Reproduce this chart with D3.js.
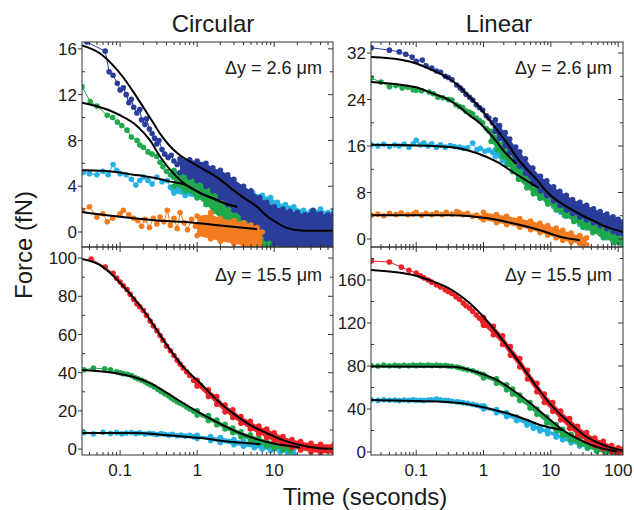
<!DOCTYPE html>
<html>
<head>
<meta charset="utf-8">
<script src="https://cdn.jsdelivr.net/npm/d3@7"></script>
<style>
body { margin: 0; background: #fff; }
text { font-family: "Liberation Sans", Arial, sans-serif; fill: #1a1a1a; }
</style>
</head>
<body>
<svg id="chart" width="634" height="510"></svg>
<script>
// ---- tick values ----
const circXTicks = [0.1, 1, 10];
const linXTicks = [0.1, 1, 10, 100];
const circTopYTicks = [0, 4, 8, 12, 16];
const circTopYMinor = [2, 6, 10, 14];
const circBotYTicks = [0, 20, 40, 60, 80, 100];
const circBotYMinor = [10, 30, 50, 70, 90];
const linTopYTicks = [0, 8, 16, 24, 32];
const linTopYMinor = [4, 12, 20, 28];
const linBotYTicks = [0, 40, 80, 120, 160];
const linBotYMinor = [20, 60, 100, 140, 180];

const titles = ['Circular', 'Linear'];
const notes = ['\u0394y = 2.6 \u03bcm', '\u0394y = 15.5 \u03bcm'];

// ---- Circular, dy = 2.6 um : [time, force] ; bands are [time, low, high] ----
const cTopBlue = [[0.033,16.9],[0.037,16.6],[0.064,15.8],[0.072,14.0],[0.081,13.7],[0.092,13.0],[0.1,12.4],[0.11,12.6],[0.12,12.0],[0.13,11.3],[0.14,11.6],[0.15,10.9],[0.165,10.4],[0.18,10.7],[0.19,9.8],[0.21,9.4],[0.22,9.9],[0.24,9.0],[0.26,8.6],[0.28,8.2],[0.3,7.7],[0.32,8.0],[0.35,7.2],[0.38,6.8],[0.42,6.5],[0.46,6.7],[0.5,6.2],[0.55,5.9],[0.6,6.1],[0.66,5.7],[0.72,5.9],[0.8,5.5],[0.9,5.7]];
const cTopBlueBand = [[0.6,5.2,6.4],[0.8,4.8,6.3],[1,4.5,6.2],[1.3,4.0,6.0],[1.6,3.6,5.6],[2,3.0,5.4],[2.5,2.4,5.0],[3,1.9,4.6],[4,1.2,4.0],[5,0.6,3.6],[6.5,-0.2,3.0],[8,-0.6,2.6],[10,-1.0,2.2],[13,-1.4,2.0],[16,-1.4,1.8],[20,-1.4,1.7],[25,-1.4,1.5],[32,-1.4,1.9],[40,-1.4,1.6],[50,-1.4,1.5],[60,-1.4,1.7]];
const cTopBlueFit = [[0.032,16.3],[0.055,15.6],[0.08,14.6],[0.11,13.5],[0.15,12.2],[0.2,10.9],[0.26,9.7],[0.33,8.6],[0.43,7.6],[0.55,6.9],[0.7,6.4],[0.89,6.0],[1.2,5.5],[1.8,4.8],[2.9,3.7],[4,3.0],[6,2.2],[8,1.4],[11,0.8],[14,0.4],[18,0.2],[25,0.12],[40,0.1],[60,0.1]];

const cTopGreen = [[0.032,12.7],[0.041,11.4],[0.05,11.0],[0.068,10.2],[0.08,10.0],[0.092,9.6],[0.105,9.3],[0.123,8.9],[0.14,8.3],[0.166,8.0],[0.18,7.6],[0.2,7.4],[0.23,7.0],[0.26,6.8],[0.3,6.6],[0.33,6.1],[0.36,5.7],[0.4,5.3],[0.45,5.0],[0.49,4.8],[0.55,4.9]];
const cTopGreenBand = [[0.5,4.0,5.4],[0.7,3.6,5.2],[1,3.0,4.8],[1.3,2.4,4.4],[1.6,1.8,3.9],[2,1.2,3.4],[2.5,0.6,3.0],[3,0.2,2.6],[4,-0.3,2.0],[5,-0.6,1.5],[6.5,-1.0,1.0],[8,-1.4,0.6],[10,-1.4,0.4],[13,-1.4,0.2],[17,-1.4,0.0]];
const cTopGreenFit = [[0.032,11.3],[0.068,10.7],[0.1,10.2],[0.15,9.5],[0.2,8.7],[0.245,8.0],[0.33,6.6],[0.45,5.4],[0.66,4.3],[1.1,3.4],[1.8,2.8],[2.5,2.4],[3.3,2.2]];

const cTopCyan = [[0.033,5.2],[0.04,5.1],[0.05,5.0],[0.06,5.3],[0.07,5.0],[0.081,5.9],[0.09,5.4],[0.1,5.1],[0.12,5.0],[0.14,4.6],[0.16,4.1],[0.18,4.5],[0.2,4.8],[0.23,4.5],[0.26,4.2],[0.3,4.8],[0.35,4.4],[0.41,4.5],[0.45,3.9],[0.49,3.7],[0.55,4.8]];
const cTopCyanBand = [[0.5,3.4,5.0],[0.7,3.2,5.0],[1,3.0,4.8],[1.5,2.8,4.5],[2,2.6,4.1],[3,2.3,3.8],[4,2.1,3.5],[5.3,1.9,3.4],[7,1.6,3.2],[9,1.4,3.0],[11,1.2,2.6],[14,1.0,2.4],[18,0.8,2.2],[24,0.6,1.9],[30,0.5,1.8],[40,0.4,2.0],[50,0.3,1.7],[60,0.3,1.9]];
const cTopCyanFit = [[0.032,5.4],[0.06,5.35],[0.1,5.2],[0.15,5.0],[0.2,4.9],[0.3,4.7],[0.45,4.4],[0.66,4.2],[1.1,3.4],[1.8,2.8],[2.5,2.4],[3.3,2.2]];

const cTopOrange = [[0.032,1.9],[0.04,2.2],[0.05,1.3],[0.06,1.6],[0.068,0.9],[0.08,1.2],[0.1,1.6],[0.11,1.9],[0.13,1.5],[0.15,1.2],[0.17,1.0],[0.19,0.5],[0.21,1.1],[0.24,0.4],[0.27,1.2],[0.3,0.7],[0.33,1.3],[0.37,0.9],[0.41,1.9],[0.45,0.6],[0.5,1.2],[0.55,0.3],[0.6,1.7],[0.68,0.8],[0.75,0.2],[0.85,1.1],[0.95,0.5],[1.1,-0.1],[1.3,0.9],[1.5,1.7],[1.7,0.4]];
const cTopOrangeBand = [[1,-0.3,1.4],[1.5,-0.6,1.5],[2,-0.8,1.2],[3,-1.0,1.0],[4,-1.2,0.8],[5,-1.4,0.6],[6,-1.4,0.4],[7,-1.4,0.0]];
const cTopOrangeFit = [[0.032,1.75],[0.06,1.5],[0.15,1.2],[0.3,1.0],[0.66,0.9],[1.5,0.65],[2.9,0.45],[6,0.25]];

// ---- Circular, dy = 15.5 um ----
const cBotRed = [[0.042,99.5],[0.064,95.3],[0.081,92.0],[0.09,89.5],[0.1,87.5],[0.11,85.5],[0.123,83.5],[0.135,81],[0.15,78.5],[0.165,76],[0.18,74.5],[0.2,72.5],[0.22,70],[0.245,67],[0.27,64.5],[0.3,62],[0.33,59.5],[0.36,57],[0.4,54],[0.45,51.5],[0.5,49],[0.55,46.5],[0.6,44.5],[0.66,42.5],[0.73,40.5],[0.8,38.5],[0.9,36],[1.0,34.5],[1.1,33.5]];
const cBotRedBand = [[1,33,36],[1.4,27.5,31],[1.8,23.5,27.5],[2.3,19.5,23],[2.9,16.5,20.5],[3.7,13.5,17],[4.9,10.5,14.5],[6.3,8,12],[8,6,10.5],[10,4,8.5],[13,2.5,6.5],[17,0.8,5],[22,-0.5,4],[30,-1.5,3],[40,-2,2.5],[60,-2.5,2.5]];
const cBotRedFit = [[0.032,99.5],[0.055,96.3],[0.08,91],[0.123,83],[0.2,72.8],[0.3,62.3],[0.45,51.8],[0.66,43],[1.1,34.5],[1.8,25.7],[2.9,18.8],[4.9,12.6],[8,8.4],[13,4.7],[21.7,2.1],[36,0.6],[60,0.1]];

const cBotGreen = [[0.034,41.5],[0.045,42.4],[0.063,42.0],[0.075,41.5],[0.09,40.5],[0.1,40.0],[0.11,39.5],[0.125,39.2],[0.14,38.5],[0.155,37.5],[0.17,36.8],[0.19,36],[0.21,35.2],[0.23,34.3],[0.25,33.5],[0.28,32.5],[0.31,31.2],[0.34,30.2],[0.38,29],[0.42,28],[0.46,26.8],[0.5,25.8],[0.55,24.8],[0.6,24],[0.66,23.2],[0.73,22],[0.8,21],[0.9,19.8],[1.0,19]];
const cBotGreenBand = [[1,17.8,20],[1.4,15,17.5],[1.8,12.8,15.2],[2.3,10.5,13],[2.9,8.5,11],[3.7,6.5,9],[4.9,4.5,7.5],[6.3,3,6],[8,1.5,4.5],[10,0.5,3.5],[13,-0.5,2.5],[16,-1,2]];
const cBotGreenFit = [[0.032,41.4],[0.068,40.3],[0.1,39.3],[0.15,37.7],[0.245,34.5],[0.41,29.3],[0.66,24],[1.1,18.8],[1.8,14.1],[2.9,10],[4.9,6.3],[8,3.7],[13,2.1],[21.7,0.8]];

const cBotCyan = [[0.034,8.5],[0.045,8.0],[0.06,8.8],[0.075,8.2],[0.09,8.6],[0.105,8.0],[0.12,8.4],[0.14,8.7],[0.16,8.1],[0.18,8.5],[0.21,7.9],[0.24,8.3],[0.27,8.0],[0.3,7.6],[0.34,8.1],[0.38,7.8],[0.43,7.3],[0.48,7.8],[0.55,7.0],[0.62,7.4],[0.7,6.8],[0.8,7.2],[0.9,6.5],[1,6.8]];
const cBotCyanBand = [[1,5.5,7.2],[1.5,4.5,6.5],[2,3.5,6],[3,2.3,5],[4,1.5,4.2],[5.5,0.7,3.5],[7,0,2.8],[9,-0.8,2],[12,-1.5,1.2],[15,-2,0.5],[18,-2.5,0]];
const cBotCyanFit = [[0.032,8.4],[0.15,8.4],[0.41,7.3],[1.1,5.8],[2.9,3.7],[6.6,2.6]];

// ---- Linear, dy = 2.6 um ----
const lTopBlue = [[0.0215,32.9],[0.04,32.5],[0.056,32.2],[0.07,31.8],[0.087,31.3],[0.1,30.6],[0.123,30.8],[0.14,29.8],[0.17,29.4],[0.2,28.9],[0.23,28.7],[0.27,28.0],[0.3,27.8],[0.34,27.4],[0.4,26.5],[0.45,26.0],[0.49,25.6],[0.55,24.9],[0.62,24.4],[0.69,23.9],[0.78,23.1],[0.87,22.6],[0.97,22.2],[1.1,21.2],[1.2,20.8],[1.36,20.0],[1.5,19.2],[1.73,18.2]];
const lTopBlueBand = [[1.5,18.5,20.5],[1.73,17.3,19.5],[2.1,16,18.3],[2.45,14.8,17.2],[3,13.4,15.8],[3.45,12.5,15],[4.2,11.3,13.8],[5.4,9.6,12.2],[7,8.3,10.8],[8.7,7.5,10],[11,6.6,9],[13.6,5.8,8.2],[17,5,7.5],[21,4.4,6.8],[27,3.8,6.3],[34,3.3,5.8],[43,2.8,5.2],[54,2.3,4.7],[68,1.8,4.3],[84,1.3,3.8],[100,1.0,3.4],[120,0.8,3.0]];
const lTopBlueFit = [[0.0213,31.3],[0.062,30.8],[0.1,30.2],[0.17,29.1],[0.3,27.7],[0.44,26.2],[0.6,24.6],[0.87,22.7],[1.2,20.6],[1.73,18.2],[2.3,16.3],[3.1,14.1],[4.4,12],[6.2,10.2],[8,8.6],[10.7,7.2],[15,6],[21,5],[30,4],[42,3.2],[60,2.3],[85,1.7],[120,1.2]];

const lTopGreen = [[0.0215,27.7],[0.03,27.0],[0.04,26.2],[0.05,26.4],[0.062,26.0],[0.075,26.1],[0.09,25.7],[0.1,25.6],[0.12,25.5],[0.156,25.3],[0.18,25.0],[0.21,24.4],[0.25,24.3],[0.3,24.0],[0.34,23.9],[0.39,23.1],[0.44,22.8],[0.49,22.6],[0.55,22.0],[0.62,21.8],[0.69,21.5],[0.78,20.8],[0.87,20.4],[0.97,20.0],[1.1,19.0],[1.2,18.6],[1.36,17.6]];
const lTopGreenBand = [[1.3,16.8,18.5],[1.6,15.3,17.5],[1.92,14.2,16.3],[2.3,12.8,15.0],[2.7,11.6,13.8],[3.3,10.3,12.5],[4.4,8.8,11],[5.5,7.8,9.8],[6.9,7,9],[9,6,8],[12,5,7],[16,4,6],[22,3,5],[30,2,4],[42,1.1,3],[60,0.2,2],[85,-0.6,1.2],[120,-1.4,0.6]];
const lTopGreenFit = [[0.0213,27.0],[0.062,26.5],[0.1,26.1],[0.17,25.1],[0.3,24.0],[0.44,22.7],[0.6,21.4],[0.87,20.0],[1.36,17.6],[2.2,14.6],[3.1,12.9]];

const lTopCyan = [[0.0215,16.2],[0.027,16.0],[0.033,16.3],[0.04,15.9],[0.048,16.2],[0.056,16.0],[0.066,16.3],[0.078,15.8],[0.09,16.4],[0.1,17.0],[0.115,16.2],[0.13,16.5],[0.15,16.0],[0.17,16.4],[0.2,15.8],[0.23,16.2],[0.27,15.8],[0.32,16.1],[0.37,15.9],[0.44,15.8],[0.5,15.6],[0.58,15.7],[0.69,16.5],[0.8,15.4],[0.9,15.6],[1.05,15.1],[1.2,15.3],[1.36,14.9],[1.56,14.8]];
const lTopCyanBand = [[1.5,14.2,15.4],[1.9,13.5,15],[2.2,12.9,14.4],[2.7,12,13.5],[3.3,11,12.8],[4.4,9.8,11.6],[5.5,8.8,10.5],[6.9,7.6,9.4],[8.7,6.6,8.2],[11,5.6,7.2],[14,4.6,6.2],[17,3.9,5.5],[22,3.2,4.8],[27,2.5,4.2],[34,1.9,3.6],[42,1.4,3.1],[55,0.8,2.4],[68,0.2,1.9],[84,-0.3,1.3],[100,-0.6,0.9],[120,-0.8,0.6]];
const lTopCyanFit = [[0.0213,16.2],[0.1,16.1],[0.34,15.8],[0.79,14.8],[1.56,13.3],[3.1,11.1],[5.4,9.4],[6.5,8.8]];

const lTopOrange = [[0.0215,4.1],[0.027,4.3],[0.033,4.0],[0.04,4.4],[0.05,4.2],[0.06,4.5],[0.075,4.2],[0.09,4.3],[0.1,4.6],[0.12,4.1],[0.14,4.4],[0.17,4.2],[0.2,4.5],[0.24,4.2],[0.28,4.6],[0.34,4.3],[0.4,4.7],[0.44,4.5],[0.5,4.2],[0.58,4.4],[0.69,3.9],[0.79,4.1],[0.9,3.7],[1.05,4.0]];
const lTopOrangeBand = [[1,3.3,4.6],[1.56,2.8,4.2],[2.2,2.5,3.9],[3.45,2.0,3.5],[5,1.6,3.1],[6.9,1.1,2.7],[9,0.7,2.3],[12,0.2,1.9],[15,-0.2,1.5],[20,-0.5,1.0],[27,-0.8,0.6],[34,-1.0,0.2]];
const lTopOrangeFit = [[0.0213,4.1],[0.34,4.1],[1.1,3.6],[2.7,2.7],[6.9,1.5],[13.6,0.4],[27,-0.2]];

// ---- Linear, dy = 15.5 um ----
const lBotRed = [[0.0215,177.7],[0.04,176.7],[0.06,172],[0.078,169],[0.1,166.5],[0.115,164],[0.13,162],[0.15,160],[0.17,158],[0.2,155.5],[0.23,153.5],[0.27,151],[0.3,149],[0.34,147.5],[0.39,144.5],[0.44,142],[0.5,138.5],[0.55,136],[0.62,134],[0.69,131],[0.78,127.5],[0.87,124.5],[0.97,121.5],[1.1,118]];
const lBotRedBand = [[1,118,125],[1.4,109,117],[1.92,100,108],[2.5,90,98],[3.45,79,87],[4.5,68,76],[6.2,56,64],[8,46,54],[10.7,38,46],[14,30,38],[19,22,31],[25,15.5,24],[34,10,18],[45,6,13],[60,3,10],[80,0,6],[100,-1.5,4],[120,-2.5,3]];
const lBotRedFit = [[0.0213,169.3],[0.062,166.5],[0.1,164],[0.156,160],[0.34,150.7],[0.62,138.6],[1.1,122.8],[1.92,104],[3.45,82.8],[6.2,60.5],[10.7,41.9],[19,27],[34,14],[60,6.5],[107,1.9],[120,1.4]];

const lBotGreen = [[0.0215,80.5],[0.027,80],[0.033,80.8],[0.04,80.2],[0.048,80.6],[0.056,80.1],[0.066,80.7],[0.078,80.2],[0.09,80.9],[0.1,80.3],[0.115,80.8],[0.13,80.4],[0.15,80.9],[0.17,80.5],[0.2,80.8],[0.23,80.3],[0.27,80.5],[0.3,80.0],[0.34,79.8],[0.4,79.0],[0.44,78.3],[0.5,77.5],[0.58,76.5],[0.69,75.5],[0.79,74.0],[0.9,72.5],[1.05,70.5]];
const lBotGreenBand = [[1,69,72],[1.56,64,68],[2.2,58,62.5],[2.7,54,58.5],[3.45,48,53],[4.9,41,46],[6.2,35,40],[8.7,27,32.5],[12,20,25.5],[15,15.5,21],[20,11,16.5],[27,7,12.5],[35,4,9],[48,1,6],[65,-1,3.5],[85,-2,2],[100,-2.5,1]];
const lBotGreenFit = [[0.0213,79.5],[0.34,79.3],[0.79,74.4],[1.56,67],[2.7,57.7],[4.9,45.6],[8.7,32.6],[15,20.5],[27,11.2],[48,4.7],[96,0.5]];

const lBotCyan = [[0.0215,48.5],[0.027,48.0],[0.033,48.6],[0.04,48.1],[0.048,48.4],[0.056,47.8],[0.066,48.3],[0.078,48.0],[0.09,48.5],[0.1,48.0],[0.115,48.2],[0.13,47.8],[0.15,48.3],[0.17,48.6],[0.2,49.3],[0.23,48.5],[0.27,48.0],[0.3,47.8],[0.34,47.2],[0.4,46.8],[0.44,46.5],[0.5,45.8],[0.58,45.2],[0.69,44.3],[0.79,43.5],[0.9,42.5],[1.05,41.5]];
const lBotCyanBand = [[1,40,43],[1.56,36.5,39.5],[2.2,33,36.5],[3.1,29,32.5],[4.4,25,28.5],[5.5,22,25.5],[6.9,19.5,23],[9,17,20.5],[12,14,17.5],[15,11.5,15],[20,8.5,12],[27,5.5,9],[35,3.5,6.5],[48,1,4.5],[65,-0.8,2.2],[85,-1.8,1],[100,-2.5,0]];
const lBotCyanFit = [[0.0213,48.4],[0.11,47.4],[0.44,45.6],[1.1,40.9],[2.2,36.3],[4.4,29.8],[6.9,25.1],[10,22.5],[15,20.5]];

// ---- colours ----
const colors = { blue: '#2b3d9b', green: '#20a84c', cyan: '#25b1e3', orange: '#f47c20', red: '#ec2227' };

const svg = d3.select('#chart');

const panels = [
  { id: 'p0', x0: 82, x1: 333, y0: 42, y1: 247, xDom: [0.032, 58], yDom: [-1.31, 16.6],
    yTicks: circTopYTicks, yMinor: circTopYMinor, xTicks: circXTicks, showX: false, note: notes[0],
    series: [
      { pts: cTopCyan, band: cTopCyanBand, fit: cTopCyanFit, c: colors.cyan },
      { pts: cTopGreen, band: cTopGreenBand, fit: cTopGreenFit, c: colors.green },
      { pts: cTopBlue, band: cTopBlueBand, fit: cTopBlueFit, c: colors.blue },
      { pts: cTopOrange, band: cTopOrangeBand, fit: cTopOrangeFit, c: colors.orange }
    ] },
  { id: 'p1', x0: 82, x1: 333, y0: 247, y1: 455, xDom: [0.032, 58], yDom: [-3.1, 105.8],
    yTicks: circBotYTicks, yMinor: circBotYMinor, xTicks: circXTicks, showX: true, note: notes[1],
    series: [
      { pts: cBotCyan, band: cBotCyanBand, fit: cBotCyanFit, c: colors.cyan },
      { pts: cBotGreen, band: cBotGreenBand, fit: cBotGreenFit, c: colors.green },
      { pts: cBotRed, band: cBotRedBand, fit: cBotRedFit, c: colors.red }
    ] },
  { id: 'p2', x0: 371, x1: 623, y0: 42, y1: 247, xDom: [0.0213, 118], yDom: [-1.38, 33.9],
    yTicks: linTopYTicks, yMinor: linTopYMinor, xTicks: linXTicks, showX: false, note: notes[0],
    series: [
      { pts: lTopCyan, band: lTopCyanBand, fit: lTopCyanFit, c: colors.cyan },
      { pts: lTopGreen, band: lTopGreenBand, fit: lTopGreenFit, c: colors.green },
      { pts: lTopBlue, band: lTopBlueBand, fit: lTopBlueFit, c: colors.blue },
      { pts: lTopOrange, band: lTopOrangeBand, fit: lTopOrangeFit, c: colors.orange }
    ] },
  { id: 'p3', x0: 371, x1: 623, y0: 247, y1: 455, xDom: [0.0213, 118], yDom: [-2.8, 190.7],
    yTicks: linBotYTicks, yMinor: linBotYMinor, xTicks: linXTicks, showX: true, note: notes[1],
    series: [
      { pts: lBotCyan, band: lBotCyanBand, fit: lBotCyanFit, c: colors.cyan },
      { pts: lBotGreen, band: lBotGreenBand, fit: lBotGreenFit, c: colors.green },
      { pts: lBotRed, band: lBotRedBand, fit: lBotRedFit, c: colors.red }
    ] }
];

const R = 2.8;

function drawPanel(p) {
  const x = d3.scaleLog().domain(p.xDom).range([p.x0, p.x1]);
  const y = d3.scaleLinear().domain(p.yDom).range([p.y1, p.y0]);

  svg.append('clipPath').attr('id', 'clip-' + p.id)
    .append('rect')
    .attr('x', p.x0).attr('y', p.y0)
    .attr('width', p.x1 - p.x0).attr('height', p.y1 - p.y0);

  const plot = svg.append('g').attr('clip-path', `url(#clip-${p.id})`);

  const line = d3.line().x(d => x(d[0])).y(d => y(d[1]));
  const area = d3.area()
    .x(d => x(d[0]))
    .y0(d => y(d[1]))
    .y1(d => y(d[2]))
    .curve(d3.curveMonotoneX);

  p.series.forEach(s => {
    plot.append('path')
      .datum(s.band)
      .attr('d', area)
      .attr('fill', s.c);

    // dots along the edges of the dense cloud
    const edge = s.band.flatMap(d => [[d[0], d[1]], [d[0], d[2]]]);
    plot.append('g').selectAll('circle')
      .data(edge)
      .join('circle')
      .attr('cx', d => x(d[0]))
      .attr('cy', d => y(d[1]))
      .attr('r', R)
      .attr('fill', s.c);

    plot.append('path')
      .datum(s.pts)
      .attr('d', line)
      .attr('fill', 'none')
      .attr('stroke', s.c)
      .attr('stroke-width', 1);

    plot.append('g').selectAll('circle')
      .data(s.pts)
      .join('circle')
      .attr('cx', d => x(d[0]))
      .attr('cy', d => y(d[1]))
      .attr('r', R)
      .attr('fill', s.c);
  });

  // fitted curves on top
  const fitLine = d3.line().x(d => x(d[0])).y(d => y(d[1])).curve(d3.curveMonotoneX);
  p.series.forEach(s => {
    plot.append('path')
      .datum(s.fit)
      .attr('d', fitLine)
      .attr('fill', 'none')
      .attr('stroke', '#000')
      .attr('stroke-width', 2);
  });

  // frame
  svg.append('rect')
    .attr('x', p.x0).attr('y', p.y0)
    .attr('width', p.x1 - p.x0).attr('height', p.y1 - p.y0)
    .attr('fill', 'none')
    .attr('stroke', '#333')
    .attr('stroke-width', 1);

  const ticks = svg.append('g').attr('stroke', '#333').attr('stroke-width', 1);

  // x ticks: decades major, others minor, inward on top and bottom
  const minorX = x.ticks().filter(t => !p.xTicks.some(m => Math.abs(m - t) < 1e-9));
  [[p.xTicks, 5], [minorX, 3]].forEach(([vals, len]) => {
    ticks.selectAll(null).data(vals).join('line')
      .attr('x1', d => x(d)).attr('x2', d => x(d))
      .attr('y1', p.y1).attr('y2', p.y1 - len);
    ticks.selectAll(null).data(vals).join('line')
      .attr('x1', d => x(d)).attr('x2', d => x(d))
      .attr('y1', p.y0).attr('y2', p.y0 + len);
  });

  // y ticks: major outward on left, minor inward; right side inward
  ticks.selectAll(null).data(p.yTicks).join('line')
    .attr('x1', p.x0 - 4).attr('x2', p.x0)
    .attr('y1', d => y(d)).attr('y2', d => y(d));
  ticks.selectAll(null).data(p.yMinor).join('line')
    .attr('x1', p.x0).attr('x2', p.x0 + 3)
    .attr('y1', d => y(d)).attr('y2', d => y(d));
  ticks.selectAll(null).data(p.yTicks).join('line')
    .attr('x1', p.x1 - 5).attr('x2', p.x1)
    .attr('y1', d => y(d)).attr('y2', d => y(d));
  ticks.selectAll(null).data(p.yMinor.filter(v => v < p.yDom[1])).join('line')
    .attr('x1', p.x1 - 3).attr('x2', p.x1)
    .attr('y1', d => y(d)).attr('y2', d => y(d));

  svg.append('g').selectAll('text')
    .data(p.yTicks)
    .join('text')
    .attr('x', p.x0 - 5)
    .attr('y', d => y(d))
    .attr('dy', '0.36em')
    .attr('text-anchor', 'end')
    .attr('font-size', 17)
    .text(d => d);

  if (p.showX) {
    svg.append('g').selectAll('text')
      .data(p.xTicks)
      .join('text')
      .attr('x', d => x(d))
      .attr('y', 476)
      .attr('text-anchor', 'middle')
      .attr('font-size', 17)
      .text(d => d);
  }

  svg.append('text')
    .attr('x', p.x1 - 11)
    .attr('y', p.showX ? p.y0 + 34 : p.y0 + 32)
    .attr('text-anchor', 'end')
    .attr('font-size', 18)
    .text(p.note);
}

panels.forEach(drawPanel);

svg.append('text').attr('x', 213).attr('y', 32).attr('text-anchor', 'middle')
  .attr('font-size', 24).text(titles[0]);
svg.append('text').attr('x', 499).attr('y', 32).attr('text-anchor', 'middle')
  .attr('font-size', 24).text(titles[1]);

svg.append('text')
  .attr('transform', 'translate(32,245) rotate(-90)')
  .attr('text-anchor', 'middle')
  .attr('font-size', 24)
  .text('Force (fN)');

svg.append('text')
  .attr('x', 365).attr('y', 505)
  .attr('text-anchor', 'middle')
  .attr('font-size', 24)
  .text('Time (seconds)');
</script>
</body>
</html>
